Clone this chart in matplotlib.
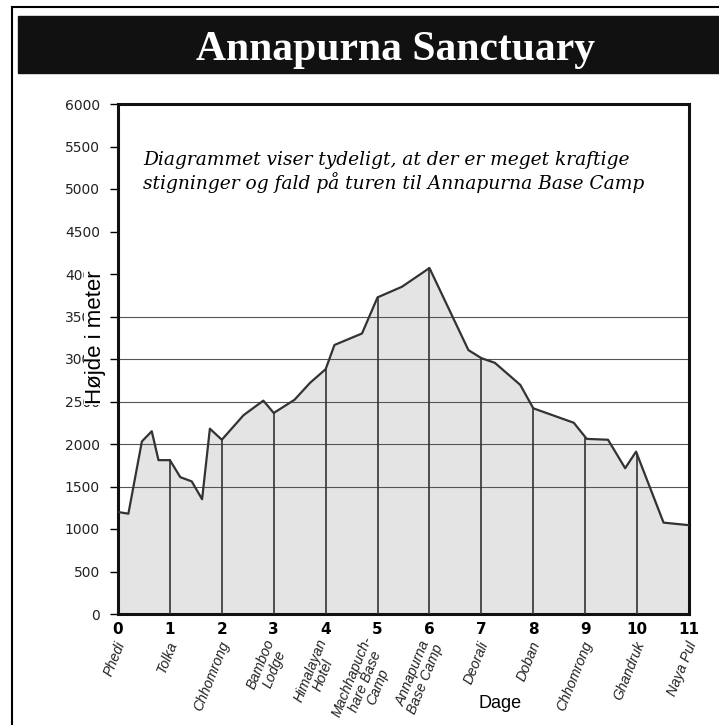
import numpy as np
import matplotlib.pyplot as plt
from matplotlib.patches import Rectangle
from matplotlib.lines import Line2D

# elevation profile (day, meters)
days = [0.0, 0.2, 0.46, 0.65, 0.78, 1.0, 1.2, 1.42, 1.62, 1.77, 2.0, 2.42, 2.8,
        3.0, 3.4, 3.7, 4.0, 4.17, 4.7, 5.0, 5.47, 6.0, 6.75, 7.0, 7.26, 7.75,
        8.0, 8.78, 9.03, 9.44, 9.77, 9.98, 10.51, 11.0]
height = [1200, 1180, 2030, 2150, 1810, 1810, 1610, 1560, 1350, 2180, 2050, 2340, 2510,
          2365, 2520, 2720, 2880, 3165, 3300, 3725, 3850, 4070, 3105, 3010, 2955, 2695,
          2420, 2250, 2060, 2050, 1715, 1910, 1075, 1045]

day_ticks = list(range(0, 12))
places = ['Phedi', 'Tolka', 'Chhomrong', 'Bamboo\nLodge', 'Himalayan\nHotel',
          'Machhapuch-\nhare Base\nCamp', 'Annapurna\nBase Camp', 'Deorali', 'Doban',
          'Chhomrong', 'Ghandruk', 'Naya Pul']
grid_levels = [1500, 2000, 2500, 3000, 3500]
y_ticks = list(range(0, 6001, 500))

fig = plt.figure(figsize=(7.19, 7.25), dpi=100)
ax = fig.add_axes([118/719, 1 - 614/725, 571/719, 510/725])

# filled profile
ax.fill_between(days, height, 0, color='#e4e4e4', zorder=1)
for g in grid_levels:
    ax.axhline(g, color='#555555', lw=0.8, zorder=2)
for d in day_ticks[1:-1]:
    ax.plot([d, d], [0, np.interp(d, days, height)], color='#333333', lw=1.2, zorder=3)
ax.plot(days, height, color='#333333', lw=1.6, zorder=4)

ax.set_xlim(0, 11)
ax.set_ylim(0, 6000)
ax.set_yticks(y_ticks)
ax.set_xticks(day_ticks)
ax.tick_params(axis='y', length=6, width=1, pad=7, labelsize=10, labelcolor='#222222')
ax.tick_params(axis='x', length=0, pad=6)
for lab in ax.get_xticklabels():
    lab.set_fontweight('bold')
    lab.set_fontsize(11)
for s in ax.spines.values():
    s.set_linewidth(2.2)
    s.set_color('#111111')

# place names under the day numbers
for d, name in zip(day_ticks, places):
    ax.text(d + 0.07, -0.055, name, transform=ax.get_xaxis_transform(),
            rotation=68, rotation_mode='anchor', ha='right', va='center',
            multialignment='center', fontsize=10.2, style='italic',
            family='Liberation Sans', color='#222222', linespacing=1.0)

# title band and frame
fig.patches.append(Rectangle((18/719, 1 - 73/725), 1 - 18/719, 57/725,
                             transform=fig.transFigure, color='#111111', zorder=0))
fig.lines.append(Line2D([12/719, 12/719], [0, 1 - 7/725], transform=fig.transFigure,
                        color='black', lw=1.5))
fig.lines.append(Line2D([12/719, 1], [1 - 7/725, 1 - 7/725], transform=fig.transFigure,
                        color='black', lw=1.5))
fig.text(395/719, 1 - 60/725, 'Annapurna Sanctuary', color='white', ha='center',
         va='baseline', fontsize=30, fontweight='bold', family='Liberation Serif')

fig.text(143/719, 1 - 165/725, 'Diagrammet viser tydeligt, at der er meget kraftige',
         ha='left', va='baseline', fontsize=13.4, style='italic', family='DejaVu Serif')
fig.text(143/719, 1 - 189/725, 'stigninger og fald på turen til Annapurna Base Camp',
         ha='left', va='baseline', fontsize=13.4, style='italic', family='DejaVu Serif')

fig.text(96/719, 1 - 337/725, 'Højde i meter', rotation=90, ha='center', va='center',
         fontsize=16, family='Liberation Sans', zorder=10,
         bbox=dict(facecolor='white', edgecolor='none', pad=1))
fig.text(500/719, 1 - 704/725, 'Dage', ha='center', va='center', fontsize=13,
         family='Liberation Sans')

fig.savefig('out.png', dpi=100)
